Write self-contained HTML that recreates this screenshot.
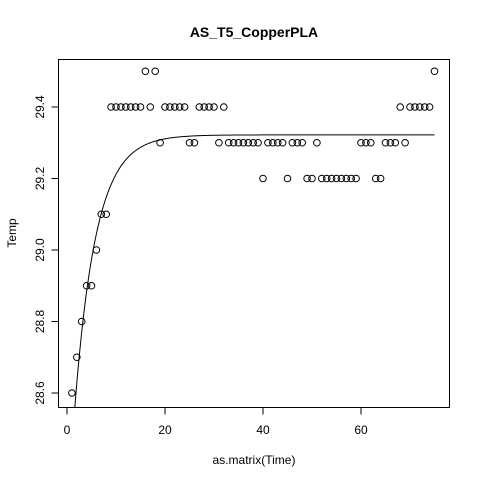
<!DOCTYPE html>
<html><head><meta charset="utf-8"><style>
body{margin:0;background:#fff}
svg{display:block;font-family:"Liberation Sans",Arial,sans-serif}
</style></head><body>
<svg id="chart" width="480" height="480" viewBox="0 0 480 480">
<rect width="480" height="480" fill="#fff"/>
<text x="254" y="37" text-anchor="middle" font-size="14" font-weight="bold">AS_T5_CopperPLA</text>
<rect x="58.5" y="59.5" width="391" height="348" fill="none" stroke="#000" stroke-width="1"/>
<g id="xaxis"></g>
<g id="yaxis"></g>
<text x="254" y="464" text-anchor="middle" font-size="12">as.matrix(Time)</text>
<text x="0" y="0" transform="translate(16,233) rotate(-90)" text-anchor="middle" font-size="12">Temp</text>
<g id="points"></g>
<path id="fit" fill="none" stroke="#000" stroke-width="1"/>
</svg>
<script>
const times = [];
for (let i = 1; i <= 75; i++) times.push(i);
const temps = [28.6,28.7,28.8,28.9,28.9,29.0,29.1,29.1,29.4,29.4,
29.4,29.4,29.4,29.4,29.4,29.5,29.4,29.5,29.3,29.4,
29.4,29.4,29.4,29.4,29.3,29.3,29.4,29.4,29.4,29.4,
29.3,29.4,29.3,29.3,29.3,29.3,29.3,29.3,29.3,29.2,
29.3,29.3,29.3,29.3,29.2,29.3,29.3,29.3,29.2,29.2,
29.3,29.2,29.2,29.2,29.2,29.2,29.2,29.2,29.2,29.3,
29.3,29.3,29.2,29.2,29.3,29.3,29.3,29.4,29.3,29.4,
29.4,29.4,29.4,29.4,29.5];
const xTicks = [0,20,40,60];
const yTicks = [28.6,28.8,29.0,29.2,29.4];
const fitParams = [29.322, 1.10, 0.23]; // asymptote, amplitude, rate
const NS = "http://www.w3.org/2000/svg";
const sx = v => 67 + v * 4.9;
const sy = v => 393 - (v - 28.6) * 357.5;
const xa = document.getElementById('xaxis');
const ya = document.getElementById('yaxis');
function mk(tag, attrs, parent){const e=document.createElementNS(NS,tag);for(const k in attrs)e.setAttribute(k,attrs[k]);parent.appendChild(e);return e;}
mk('line',{x1:sx(0),x2:sx(60),y1:407.5,y2:407.5,stroke:'#000'},xa);
xTicks.forEach(t=>{
  const l=mk('line',{x1:sx(t),x2:sx(t),y1:407.5,y2:414.5,stroke:'#000'},xa);
  
  
  const tx=mk('text',{x:sx(t),y:434,'text-anchor':'middle','font-size':12},xa);
  tx.textContent=t;
  
  
});
mk('line',{x1:58.5,x2:58.5,y1:sy(28.6),y2:sy(29.4),stroke:'#000'},ya);
yTicks.forEach(t=>{
  const l=mk('line',{x1:51.5,x2:58.5,y1:sy(t),y2:sy(t),stroke:'#000'},ya);
  
  
  const tx=mk('text',{x:0,y:0,transform:`translate(44,${sy(t)}) rotate(-90)`,'text-anchor':'middle','font-size':12},ya);
  tx.textContent=t.toFixed(1);
  
  
});
const pg=document.getElementById('points');
times.forEach((t,i)=>{
  const c=mk('circle',{cx:sx(t),cy:sy(temps[i]),r:3.3,fill:'none',stroke:'#000','stroke-width':1},pg);
  
  
});
const [A,B,K]=fitParams;
let d='';
for(let x=1.6;x<=75.001;x+=0.2){
  const y=A-B*Math.exp(-K*x);
  d+=(d?'L':'M')+sx(x).toFixed(2)+','+sy(y).toFixed(2);
}
document.getElementById('fit').setAttribute('d',d);
</script>
</body></html>
